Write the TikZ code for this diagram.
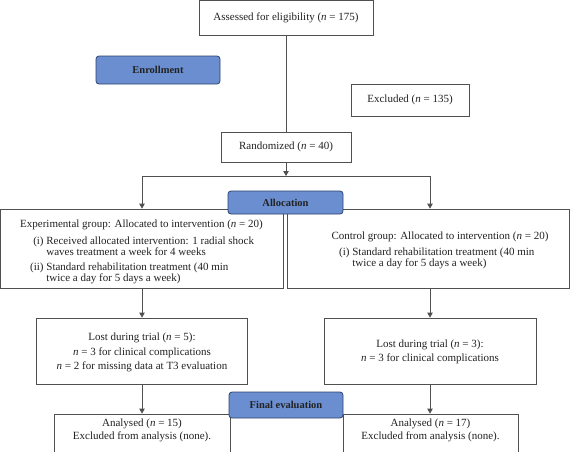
\documentclass[tikz,border=0pt]{standalone}
\usepackage{fontspec}
\setmainfont{Liberation Serif}
\usetikzlibrary{arrows.meta}
\definecolor{linegray}{HTML}{505050}
\definecolor{textcol}{HTML}{222222}
\definecolor{phasefill}{HTML}{6A8ECF}
\definecolor{phasedraw}{HTML}{2E4470}
\tikzset{
  x=1pt, y=-1pt,
  every node/.style={font=\fontsize{11}{11}\selectfont, text=textcol, inner sep=0pt},
  box/.style={draw=linegray, line width=0.8pt, fill=white, minimum width=#1},
  phase/.style={draw=phasedraw, line width=0.8pt, fill=phasefill, rounded corners=3pt, font=\fontsize{10.5}{11}\selectfont\bfseries, minimum width=#1},
  conn/.style={draw=linegray, line width=0.8pt},
  arr/.style={conn, -{Triangle[width=5.5pt,length=5pt]}},
  txt/.style={anchor=base},
  lst/.style={anchor=base west},
}
\newcommand{\nn}{\textit{n}}
\begin{document}
\begin{tikzpicture}
\useasboundingbox (0,0) rectangle (570,451);
% enrollment
\node[box=174pt, minimum height=35pt] (assess) at (286,17.5) {Assessed for eligibility (\nn{} = 175)};
\node[phase=124pt, minimum height=28pt] (enroll) at (158,70) {Enrollment};
\node[box=118pt, minimum height=32pt] (excl) at (410,100) {Excluded (\nn{} = 135)};
\node[box=130pt, minimum height=30pt] (rand) at (286,147) {Randomized (\nn{} = 40)};
\draw[conn] (assess) -- (rand);
% allocation
\coordinate (split) at (286,176);
\coordinate (sl) at (142,176);
\coordinate (sr) at (430,176);
\node[box=282.5pt, minimum height=79pt] (exp) at (141.75,248.5) {};
\node[box=282pt, minimum height=79pt] (ctrl) at (428,248.5) {};
\draw[arr] (rand) -- (split);
\draw[conn] (sl) -- (sr);
\draw[arr] (sl) -- (sl |- exp.north);
\draw[arr] (sr) -- (sr |- ctrl.north);
\node[phase=115pt, minimum height=23pt] (alloc) at (285.5,202.5) {Allocation};
\node[txt] (exptitle) at (141.5,227.5) {Experimental group: Allocated to intervention (\nn{} = 20)};
\node[lst] (explist) at (30,244.5) {\begin{tabular}[t]{@{}r@{\ }l@{}}
(i) & Received allocated intervention: 1 radial shock\\
 & waves treatment a week for 4 weeks\\[3.5pt]
(ii) & Standard rehabilitation treatment (40 min\\
 & twice a day for 5 days a week)
\end{tabular}};
\node[txt] (ctrltitle) at (440,239.5) {Control group: Allocated to intervention (\nn{} = 20)};
\node[lst] (ctrllist) at (339,255.5) {\begin{tabular}[t]{@{}r@{\ }l@{}}
(i) & Standard rehabilitation treatment (40 min\\
 & twice a day for 5 days a week)
\end{tabular}};
% follow-up
\node[box=211pt, minimum height=66pt] (lostl) at (141.5,351) {};
\node[box=212pt, minimum height=66pt] (lostr) at (430,351) {};
\node[txt] (lostltext) at (142,340.5) {\begin{tabular}[t]{@{}c@{}}
Lost during trial (\nn{} = 5):\\[3.5pt]
\nn{} = 3 for clinical complications\\[3.5pt]
\nn{} = 2 for missing data at T3 evaluation
\end{tabular}};
\node[txt] (lostrtext) at (430,347.5) {\begin{tabular}[t]{@{}c@{}}
Lost during trial (\nn{} = 3):\\[3pt]
\nn{} = 3 for clinical complications
\end{tabular}};
\draw[arr] (exp.south -| sl) -- (sl |- lostl.north);
\draw[arr] (ctrl.south -| sr) -- (sr |- lostr.north);
% analysis
\node[box=176pt, minimum height=38pt] (anl) at (142,433) {};
\node[box=175pt, minimum height=38pt] (anr) at (430.5,433) {};
\node[txt] (anltext) at (142,426.5) {\begin{tabular}[t]{@{}c@{}}
Analysed (\nn{} = 15)\\[2pt]
Excluded from analysis (none).
\end{tabular}};
\node[txt] (anrtext) at (430.5,426.5) {\begin{tabular}[t]{@{}c@{}}
Analysed (\nn{} = 17)\\[2pt]
Excluded from analysis (none).
\end{tabular}};
\draw[arr] (lostl.south -| sl) -- (sl |- anl.north);
\draw[arr] (lostr.south -| sr) -- (sr |- anr.north);
\node[phase=114pt, minimum height=26pt] (final) at (286,405) {Final evaluation};
\end{tikzpicture}
\end{document}
